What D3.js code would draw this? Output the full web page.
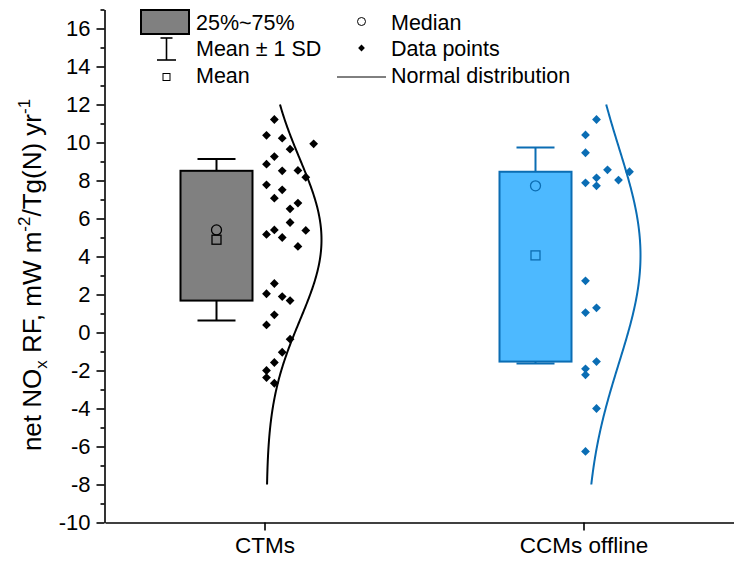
<!DOCTYPE html>
<html>
<head>
<meta charset="utf-8">
<script src="https://cdn.jsdelivr.net/npm/d3@7"></script>
<style>
  html, body { margin: 0; padding: 0; background: #fff; }
  svg { display: block; font-family: "Liberation Sans", Arial, sans-serif; }
</style>
</head>
<body>
<svg id="chart" width="734" height="567"></svg>
<script>
// Model groups and their net NOx RF values (mW m-2 / Tg(N) yr-1)
const categories = ["CTMs", "CCMs offline"];
const ctmValues = [
  10.38, 11.21, 10.23,
  8.86, 9.26, 8.51, 9.65, 8.53, 8.17, 9.93,
  7.77, 7.07, 7.51, 6.51, 6.81,
  5.16, 5.40, 5.00, 5.79, 4.53, 5.37,
  2.04, 2.58,
  0.40, 0.93, 1.89, 1.68,
  -2.00, -1.58, -1.04, -0.35,
  -2.37, -2.67
];
const ccmValues = [
  10.40, 11.21,
  9.46, 8.14, 8.56, 8.02, 8.46,
  7.88, 7.72,
  2.72,
  1.05, 1.30,
  -1.91, -1.53,
  -2.23, -4.00,
  -6.26
];
const yTicks = [-10, -8, -6, -4, -2, 0, 2, 4, 6, 8, 10, 12, 14, 16];
const yMinorTicks = [-9, -7, -5, -3, -1, 1, 3, 5, 7, 9, 11, 13, 15, 17];

const groups = [
  { name: categories[0], values: ctmValues, fill: "#808080", stroke: "#000000", point: "#000000" },
  { name: categories[1], values: ccmValues, fill: "#4db9ff", stroke: "#0b6db3", point: "#0a6db4" }
];

const FONT = "Liberation Sans, Arial, sans-serif";
const svg = d3.select("#chart");
const y = d3.scaleLinear().domain([-10, 17]).range([522.5, 9.5]);
const x = d3.scaleLinear().domain([0.5, 2.5]).range([105, 743]);

const binSize = 2;          // point layout bins (same as major tick step)
const pointSpan = 55;       // horizontal room for points and curve
const curveRange = [-8, 12];

function diamondPath(cx, cy, r) {
  return `M${cx},${cy - r}L${cx + r},${cy}L${cx},${cy + r}L${cx - r},${cy}Z`;
}

groups.forEach((g, gi) => {
  const cx = x(gi + 1);
  const bx = cx - 48;
  const vals = g.values;
  const sorted = vals.slice().sort(d3.ascending);
  const q1 = d3.quantile(sorted, 0.25);
  const q3 = d3.quantile(sorted, 0.75);
  const med = d3.median(vals);
  const mean = d3.mean(vals);
  const sd = d3.deviation(vals);
  const layer = svg.append("g");

  // mean ± 1 SD whiskers
  [[q3, mean + sd], [q1, mean - sd]].forEach(([from, to]) => {
    layer.append("line").attr("x1", bx).attr("x2", bx)
      .attr("y1", y(from)).attr("y2", y(to))
      .attr("stroke", g.stroke).attr("stroke-width", 2);
    layer.append("line").attr("x1", bx - 19).attr("x2", bx + 19)
      .attr("y1", y(to)).attr("y2", y(to))
      .attr("stroke", g.stroke).attr("stroke-width", 2);
  });

  // 25%–75% box
  layer.append("rect")
    .attr("x", bx - 36).attr("width", 72)
    .attr("y", y(q3)).attr("height", y(q1) - y(q3))
    .attr("fill", g.fill).attr("stroke", g.stroke).attr("stroke-width", 2);

  // median and mean markers
  layer.append("circle").attr("cx", bx).attr("cy", y(med)).attr("r", 5)
    .attr("fill", "none").attr("stroke", g.stroke).attr("stroke-width", 1.3);
  layer.append("rect").attr("x", bx - 4.5).attr("y", y(mean) - 4.5)
    .attr("width", 9).attr("height", 9)
    .attr("fill", "none").attr("stroke", g.stroke).attr("stroke-width", 1.3);

  // data points, spread side by side within value bins
  const binCount = new Map();
  const slots = vals.map(v => {
    const b = Math.floor(v / binSize);
    const k = binCount.get(b) || 0;
    binCount.set(b, k + 1);
    return k;
  });
  const maxCount = d3.max(Array.from(binCount.values()));
  const step = pointSpan / maxCount;
  layer.selectAll("path.pt").data(vals).join("path")
    .attr("class", "pt")
    .attr("d", (v, i) => diamondPath(cx + 2 + slots[i] * step, y(v), 4.4))
    .attr("fill", g.point);

  // fitted normal distribution curve, scaled so its peak spans pointSpan
  const ys = d3.range(curveRange[0], curveRange[1] + 0.001, 0.1);
  const line = d3.line()
    .x(v => cx + 2 + pointSpan * Math.exp(-0.5 * Math.pow((v - mean) / sd, 2)))
    .y(v => y(v));
  layer.append("path").attr("d", line(ys))
    .attr("fill", "none").attr("stroke", g.point).attr("stroke-width", 2);
});

// axes
const axisColor = "#000";
const yAxis = svg.append("g").attr("transform", "translate(104.5,0)")
  .call(d3.axisLeft(y).tickValues(yTicks).tickSize(8).tickSizeOuter(0).tickPadding(6)
    .tickFormat(d => String(d)));
svg.append("g").attr("transform", "translate(104.5,0)")
  .call(d3.axisLeft(y).tickValues(yMinorTicks).tickSize(4).tickSizeOuter(0).tickFormat(""))
  .select(".domain").remove();
yAxis.selectAll("text").attr("font-size", 22).attr("font-family", FONT)
  .attr("fill", axisColor);

const xAxis = svg.append("g").attr("transform", "translate(0,522.5)")
  .call(d3.axisBottom(x).tickValues([1, 2]).tickFormat(d => categories[d - 1])
    .tickSize(8).tickSizeOuter(0).tickPadding(7));
xAxis.selectAll("text").attr("font-size", 22.5).attr("font-family", FONT)
  .attr("fill", axisColor);
svg.selectAll(".domain, .tick line").attr("stroke", axisColor).attr("stroke-width", 1.6);

// y axis title
const title = svg.append("text")
  .attr("transform", "translate(41,275) rotate(-90)")
  .attr("text-anchor", "middle").attr("font-size", 26).attr("fill", "#000");
title.append("tspan").text("net NO");
title.append("tspan").text("x").attr("font-size", 17).attr("baseline-shift", "-6");
title.append("tspan").text(" RF, mW m");
title.append("tspan").text("-2").attr("font-size", 17).attr("baseline-shift", "11");
title.append("tspan").text("/Tg(N) yr");
title.append("tspan").text("-1").attr("font-size", 17).attr("baseline-shift", "11");

// legend
const lg = svg.append("g").attr("font-size", 21.5).attr("fill", "#000");
lg.append("rect").attr("x", 141).attr("y", 10).attr("width", 48).attr("height", 24)
  .attr("fill", "#808080").attr("stroke", "#000").attr("stroke-width", 2);
lg.append("text").attr("x", 196).attr("y", 30).text("25%~75%");
lg.append("line").attr("x1", 166.5).attr("x2", 166.5).attr("y1", 38).attr("y2", 60)
  .attr("stroke", "#000").attr("stroke-width", 1.6);
lg.append("line").attr("x1", 160.5).attr("x2", 172.5).attr("y1", 38).attr("y2", 38)
  .attr("stroke", "#000").attr("stroke-width", 1.6);
lg.append("line").attr("x1", 157).attr("x2", 176).attr("y1", 60).attr("y2", 60)
  .attr("stroke", "#000").attr("stroke-width", 1.6);
lg.append("text").attr("x", 196).attr("y", 56).text("Mean ± 1 SD");
lg.append("rect").attr("x", 163).attr("y", 73.5).attr("width", 7).attr("height", 7)
  .attr("fill", "none").attr("stroke", "#000").attr("stroke-width", 1);
lg.append("text").attr("x", 196).attr("y", 82.5).text("Mean");

lg.append("circle").attr("cx", 361.5).attr("cy", 21.5).attr("r", 4)
  .attr("fill", "none").attr("stroke", "#000").attr("stroke-width", 1);
lg.append("text").attr("x", 391).attr("y", 30).text("Median");
lg.append("path").attr("d", diamondPath(361.5, 48, 3.4)).attr("fill", "#000");
lg.append("text").attr("x", 391).attr("y", 56).text("Data points");
lg.append("line").attr("x1", 337).attr("x2", 386).attr("y1", 77).attr("y2", 77)
  .attr("stroke", "#000").attr("stroke-width", 1);
lg.append("text").attr("x", 391).attr("y", 82.5).text("Normal distribution");
</script>
</body>
</html>
